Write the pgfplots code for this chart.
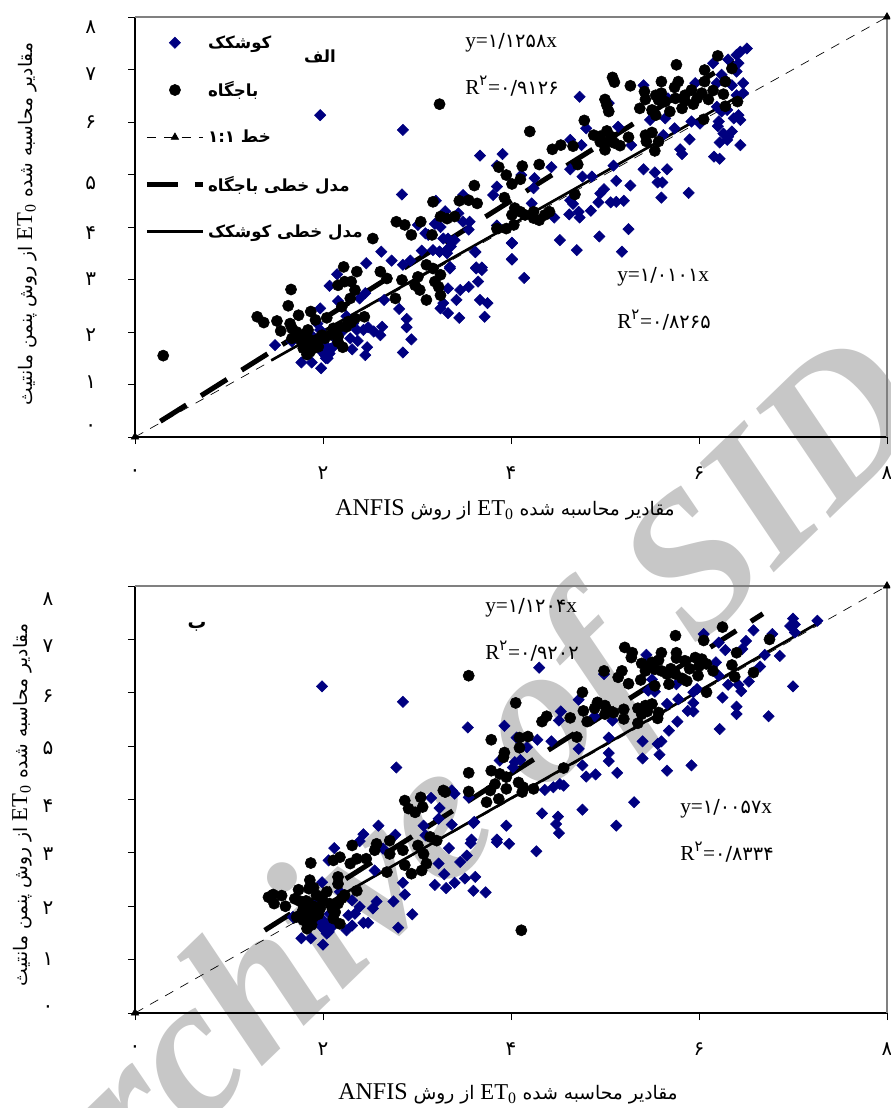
\documentclass[border=0pt]{standalone}
\usepackage{fontspec}
\usepackage{pgfplots}
\pgfplotsset{compat=1.18}
\setmainfont{Liberation Serif}
\newfontfamily\ar[Script=Arabic]{DejaVu Sans}
\TeXXeTstate=1
\definecolor{kblue}{HTML}{000080}
\newcommand\ry[2]{\raisebox{\dimexpr#1-2pt\relax}[0pt][0pt]{\ar\fontsize{15}{15}\selectfont #2}}
\newcommand\tx[1]{{\ar\fontsize{15}{15}\selectfont #1}}
\newcommand\eqn[2]{{\fontsize{16}{16}\selectfont #1{\ar\fontsize{14.5}{14.5}\selectfont #2}}}
\pgfplotsset{
  ketick/.style={
    scale only axis, clip=false, width=564pt,
    xmin=0,xmax=8,ymin=0,ymax=8,
    axis lines=left, axis line style={-,black,line width=0.9pt},
    tick style={black,line width=0.7pt}, tick align=outside, major tick length=5.25pt,
    xtick={0,2,4,6,8}, ytick={0,1,2,3,4,5,6,7,8},
    xticklabels={\tx{۰},\tx{۲},\tx{۴},\tx{۶},\tx{۸}},
    xticklabel style={anchor=center,yshift=-22pt},
    yticklabel style={anchor=center,xshift=-28pt},
    legend image code/.code={\draw[mark repeat=2,mark phase=2,##1] plot coordinates {(0pt,0pt)(21pt,0pt)(42pt,0pt)};},
  },
  kblue/.style={only marks,mark=square*,mark size=3pt,mark options={rotate=45,fill=kblue,draw=kblue},color=kblue},
  kblack/.style={only marks,mark=*,mark size=4.2pt,mark options={fill=black,draw=black},color=black},
  kone/.style={black,line width=0.5pt,dash pattern=on 7pt off 6pt,mark=triangle*,mark size=3.2pt,mark options={solid,fill=black}},
  kdash/.style={black,line width=3.8pt,dash pattern=on 23pt off 13pt,no marks},
  ksolid/.style={black,line width=2pt,no marks},
}
\begin{document}
\begin{tikzpicture}
\clip (0,0) rectangle (667.5pt,-831pt);
\path[use as bounding box] (0,0) rectangle (667.5pt,-831pt);
\begin{scope}[x=0.75pt,y=-0.75pt]
\coordinate (A1) at (135,437);
\coordinate (A2) at (135,1013);
\node[rotate=44,text=black!22,anchor=base west,inner sep=0pt] at (45,1277)
  {\fontsize{149}{149}\selectfont\bfseries\itshape Archive of SID};
\end{scope}

\begin{axis}[ketick,at={(A1)},anchor=south west,height=315pt,
  yticklabels={\ry{6.5pt}{۰},\ry{-1pt}{۱},\ry{-4.75pt}{۲},\ry{-2.5pt}{۳},\ry{-7pt}{۴},\ry{-9.25pt}{۵},\ry{-2.5pt}{۶},\ry{-6.25pt}{۷},\ry{-10pt}{۸}},
  legend cell align=left,
  legend style={at={(axis cs:0.10,7.70)},anchor=north west,draw=none,fill=none,inner sep=0pt,outer sep=0pt,
    row sep=19.5pt,font=\ar\bfseries\fontsize{12.5}{15}\selectfont,
    /tikz/every even column/.append style={column sep=8pt}},
]
\addplot[kblue] coordinates {
(6.51,7.40)(6.44,7.34)(6.40,7.28)(6.31,7.19)(6.15,7.12)(6.42,7.12)(6.40,6.96)(6.47,6.74)(6.35,6.70)(6.19,6.74)
(6.24,6.90)(6.28,6.80)(5.96,6.74)(5.41,6.70)(5.67,6.45)(6.40,6.51)(6.47,6.55)(4.73,6.48)(6.19,6.29)(6.24,6.20)
(6.30,6.23)(6.42,6.13)(6.44,6.04)(6.37,6.07)(6.21,6.01)(6.20,5.92)(5.92,6.01)(6.01,5.97)(5.74,5.88)(5.64,6.07)
(5.48,6.04)(5.14,5.91)(4.80,5.88)(5.04,6.36)(4.63,5.66)(4.75,5.56)(5.28,5.56)(5.62,5.75)(6.35,5.82)(6.26,5.78)
(6.31,5.72)(6.30,5.66)(6.22,5.61)(6.44,5.56)(5.90,5.67)(5.80,5.48)(5.82,5.39)(6.16,5.34)(6.22,5.30)(5.41,5.10)
(5.53,5.04)(5.66,5.10)(4.63,5.10)(5.09,5.17)(4.43,5.14)(4.76,4.96)(4.86,4.96)(3.67,5.36)(3.91,5.39)(3.85,5.17)
(4.11,4.99)(4.25,4.93)(3.85,4.77)(3.81,4.61)(4.24,4.74)(5.12,4.88)(5.27,4.79)(5.56,4.85)(5.61,4.85)(5.60,4.56)
(5.89,4.65)(4.99,4.72)(4.95,4.64)(4.93,4.47)(5.06,4.47)(5.12,4.48)(5.20,4.50)(4.63,4.51)(4.66,4.44)(4.22,4.45)
(4.85,4.31)(4.72,4.29)(4.62,4.24)(4.73,4.18)(4.46,4.18)(3.85,4.03)(5.25,3.96)(4.94,3.82)(4.52,3.75)(4.01,3.70)
(4.70,3.56)(5.18,3.53)(4.01,3.39)(3.62,3.52)(3.63,3.23)(3.69,3.23)(3.36,3.63)(3.33,3.78)(3.35,3.24)(3.49,4.61)
(3.44,4.26)(3.49,4.10)(3.56,4.10)(3.32,3.50)
(1.97,6.13)(2.85,5.85)(2.84,4.62)(3.01,4.04)(3.19,4.06)(3.09,3.88)(3.24,3.53)(3.28,3.78)
(2.62,3.53)(2.73,3.36)(2.85,3.28)(2.93,3.36)(2.46,3.31)(2.15,3.10)(2.07,2.88)(2.45,2.74)(2.39,2.64)(2.16,2.59)
(1.97,2.45)(1.94,2.16)(1.97,2.04)(1.49,1.75)(1.67,1.82)(1.77,1.42)(1.88,1.42)(1.98,1.31)(1.99,1.62)(2.04,1.72)
(2.02,1.56)(2.07,1.59)(2.05,1.50)(1.97,1.75)(2.11,1.91)(2.32,2.16)(2.36,2.04)(2.29,1.88)(2.37,1.83)(2.31,1.67)
(2.47,1.71)(2.45,1.56)(2.43,2.04)(2.48,2.09)(2.54,2.01)(2.61,1.94)(2.63,2.10)(2.65,2.61)(2.81,2.44)(2.89,2.25)
(2.89,2.09)(2.94,1.86)(2.85,1.61)(3.25,2.45)(3.28,2.55)(3.33,2.36)(3.45,2.27)(3.42,2.61)(3.33,2.83)(3.46,2.80)
(3.55,2.86)(3.65,2.96)(3.63,3.21)(3.69,3.18)(3.67,2.61)(3.75,2.55)(3.72,2.29)(3.35,3.21)(3.62,3.53)(4.01,3.69)
(4.01,3.38)(4.14,3.03)(3.33,3.59)(3.24,3.53)(3.17,3.56)(3.05,3.55)(3.12,3.85)(3.25,4.00)(3.40,3.75)(3.55,3.95)
(3.20,4.50)(3.30,4.30)(2.10,1.70)(2.20,2.00)(2.25,2.30)(1.90,1.90)(2.00,1.66)(2.05,1.62)(2.08,1.68)(2.03,1.50)
};
\addlegendentry{\beginR کوشکک\endR}
\addplot[kblack] coordinates {
(6.20,7.26)(5.76,7.09)(6.06,6.99)(6.35,7.02)(5.08,6.85)(5.10,6.76)(5.27,6.69)(5.60,6.77)(5.78,6.77)(5.74,6.66)
(5.42,6.58)(5.43,6.43)(5.54,6.51)(5.57,6.42)(5.64,6.39)(6.28,6.77)(6.26,6.53)(5.00,6.43)(5.02,6.32)(5.04,6.20)
(5.37,6.26)(5.50,6.23)(5.54,6.13)(5.69,6.20)(5.82,6.26)(5.94,6.34)(6.10,6.43)(6.03,6.55)(5.92,6.61)(5.85,6.51)
(6.06,6.77)(6.28,6.30)(6.41,6.39)(6.05,6.05)(4.78,6.03)(4.20,5.82)(4.88,5.75)(4.95,5.73)(5.02,5.83)(5.07,5.72)
(5.00,5.47)(5.04,5.63)(5.16,5.55)(5.25,5.71)(5.43,5.75)(5.50,5.80)(5.44,5.63)(5.53,5.45)(5.57,5.63)(4.44,5.48)
(4.53,5.56)(4.66,5.54)(4.71,5.19)(3.87,5.14)(3.95,4.99)(4.12,5.16)(4.30,5.19)(4.01,4.82)(4.10,4.91)(3.61,4.79)
(3.93,4.56)(3.45,4.50)(3.55,4.51)(3.64,4.45)(4.68,4.62)(4.04,4.36)(4.10,4.29)(4.01,4.23)(4.15,4.23)(4.24,4.29)
(4.24,4.17)(4.30,4.13)(4.36,4.23)(4.41,4.29)(4.03,4.04)(3.95,3.97)(3.85,3.97)(3.40,4.20)(3.32,4.16)
(3.24,6.34)(3.17,4.48)(2.78,4.10)(2.87,4.04)(3.04,4.10)(3.25,4.20)(2.94,3.85)(3.16,3.85)(2.53,3.78)(3.10,3.28)
(0.30,1.55)(1.30,2.29)(1.37,2.18)(1.51,2.21)(1.66,2.81)(1.63,2.50)(1.74,2.32)(1.87,2.39)(1.92,2.23)(1.65,2.16)
(1.67,2.07)(1.55,2.02)(1.72,2.00)(1.84,2.04)(1.67,1.88)(1.77,1.82)(1.84,1.88)(1.79,1.69)(1.90,1.69)(1.83,1.57)
(1.93,1.85)(1.99,1.94)(2.04,2.27)(2.11,2.07)(2.20,2.48)(2.16,1.81)(2.21,1.71)(2.27,2.20)(2.18,2.10)(2.16,1.91)
(2.44,2.29)(2.34,2.80)(2.36,3.15)(2.23,2.96)(2.16,2.89)(2.30,2.96)(2.22,3.24)(2.29,2.64)(2.61,3.15)(2.68,3.02)
(2.77,2.64)(2.84,2.99)(3.01,3.05)(2.98,2.89)(3.03,2.80)(3.10,2.61)(3.17,3.21)(3.25,3.09)(3.23,2.86)(3.25,2.70)
(3.19,2.96)
(1.80,1.95)(1.88,1.78)(1.95,1.72)(2.02,1.88)(2.08,1.95)(2.12,2.00)(1.86,1.62)(2.25,2.10)(2.30,2.18)(2.34,2.26)
(4.95,5.62)(5.10,5.60)(5.75,6.45)(5.85,6.40)(5.98,6.45)(6.15,6.60)(5.60,6.55)
};
\addlegendentry{\beginR باجگاه\endR}
\addplot[kone] coordinates {(0,0)(8,8)};
\addlegendentry{\beginR خط \beginL ۱:۱\endL{}\endR}
\addplot[kdash] coordinates {(0.27,0.30)(6.37,7.17)};
\addlegendentry{\beginR مدل خطی باجگاه\endR}
\addplot[ksolid] coordinates {(1.45,1.46)(6.51,6.58)};
\addlegendentry{\beginR مدل خطی کوشکک\endR}
\draw[black!50,line width=0.9pt] (axis cs:0,8) -- (axis cs:8,8) -- (axis cs:8,0);
\end{axis}

\begin{axis}[ketick,at={(A2)},anchor=south west,height=320.25pt,
  yticklabel style={anchor=center,xshift=-32pt},
  yticklabels={\ry{2.75pt}{۰},\ry{-2.5pt}{۱},\ry{-4pt}{۲},\ry{-4pt}{۳},\ry{-7.75pt}{۴},\ry{-4pt}{۵},\ry{-5.5pt}{۶},\ry{-7.75pt}{۷},\ry{-12.25pt}{۸}},
]
\addplot[kblue] coordinates {
(7.26,7.35)(7.00,7.39)(7.02,7.28)(6.97,7.25)(7.02,7.13)(6.78,7.10)(6.58,7.17)(6.50,6.97)(6.05,7.10)(6.21,6.94)
(6.28,6.80)(6.46,6.82)(6.70,6.71)(6.86,6.69)(5.44,6.71)(4.30,6.47)(6.18,6.57)(6.65,6.49)(6.53,6.21)(7.00,6.12)
(6.31,6.15)(6.42,6.15)(6.45,6.03)(6.21,6.32)(5.98,6.07)(5.94,6.01)(6.25,5.91)(5.94,5.81)(5.78,5.88)(5.66,5.79)
(6.40,5.74)(6.40,5.60)(6.74,5.56)(5.88,5.66)(5.94,5.65)(5.77,5.46)(5.68,5.29)(6.22,5.32)(5.46,6.04)(5.53,6.02)
(5.50,6.25)(5.76,6.16)(4.99,6.35)(4.72,5.87)(4.53,5.65)(4.51,5.48)(4.89,5.56)(5.08,5.48)(3.93,5.38)(3.54,5.35)
(4.06,5.16)(4.28,5.12)(4.43,5.09)(4.72,4.95)(5.04,5.16)(5.40,5.09)(5.60,5.09)(5.56,5.04)(5.04,4.87)(5.04,4.72)
(5.58,4.84)(5.40,4.77)(5.66,4.54)(5.92,4.64)(4.76,4.64)(4.17,4.98)(4.10,4.74)(4.04,4.70)(4.02,4.60)(3.88,4.73)
(4.80,4.43)(4.90,4.47)(5.13,4.50)(4.36,4.18)(4.45,4.23)(4.52,4.29)(4.56,4.26)(5.31,3.95)(4.76,3.81)(4.33,3.74)
(4.50,3.68)(4.48,3.54)(4.51,3.37)(5.12,3.51)(3.95,3.51)(3.60,3.56)(3.37,3.53)(3.58,3.25)(3.85,3.25)(3.40,4.11)
(3.55,4.04)(3.37,4.17)
(1.99,6.12)(2.85,5.83)(2.78,4.60)(3.15,4.03)(3.24,3.84)(3.23,3.64)(2.59,3.51)(2.43,3.35)(2.77,3.34)(3.07,3.51)
(3.09,3.33)(2.39,3.22)(2.12,3.09)(2.06,2.86)(3.61,3.58)(3.85,3.20)(3.98,3.17)(4.27,3.03)(3.57,3.18)(3.34,3.09)
(3.53,2.95)(3.46,2.83)(3.23,2.80)(3.29,2.60)(3.62,2.55)(3.51,2.52)(3.40,2.44)(3.19,2.40)(3.31,2.34)(3.60,2.29)
(3.73,2.26)(2.85,2.44)(2.87,2.22)(2.75,2.09)(2.57,2.09)(2.53,1.96)(2.39,1.99)(2.34,1.86)(2.27,1.83)(2.95,1.85)
(2.80,1.60)(2.43,1.69)(2.48,1.69)(2.31,1.64)(2.25,1.55)(2.55,2.67)(1.99,2.45)(2.18,2.27)(2.31,2.11)(1.77,1.40)
(1.87,1.40)(2.00,1.28)(2.04,1.49)(1.99,1.61)(2.07,1.58)(1.93,2.05)(1.68,1.80)(1.95,1.74)(2.06,1.67)(2.00,1.74)
(2.07,1.86)(2.64,3.08)(2.02,1.55)(2.06,1.52)(2.10,1.62)
};
\addplot[kblack] coordinates {
(6.25,7.23)(5.75,7.07)(6.05,6.98)(6.75,7.00)(6.40,6.75)(5.21,6.85)(5.29,6.75)(5.28,6.66)(5.60,6.75)(5.76,6.75)
(5.76,6.65)(5.96,6.66)(5.39,6.55)(5.50,6.57)(5.57,6.61)(5.43,6.41)(5.53,6.44)(5.60,6.41)(5.66,6.35)(5.85,6.60)
(6.03,6.63)(6.08,6.54)(6.15,6.41)(5.99,6.32)(5.82,6.27)(5.87,6.22)(6.35,6.52)(6.38,6.30)(6.58,6.38)(4.99,6.41)
(5.18,6.41)(5.14,6.29)(5.25,6.17)(5.38,6.24)(5.53,6.13)(5.68,6.16)(6.08,6.01)(3.55,6.32)(4.76,6.01)(4.05,5.81)
(4.92,5.82)(5.00,5.76)(4.89,5.71)(5.00,5.60)(5.09,5.63)(5.20,5.69)(5.20,5.51)(5.35,5.71)(5.43,5.76)(5.50,5.79)
(5.39,5.60)(5.35,5.43)(5.57,5.63)(5.56,5.52)(4.77,5.66)(4.81,5.46)(4.63,5.53)(4.38,5.56)(4.33,5.46)(4.70,5.17)
(3.79,5.12)(4.09,5.16)(4.18,5.18)(4.09,4.97)(3.93,4.88)(3.92,4.79)(3.55,4.50)(3.79,4.54)(4.56,4.59)(3.88,4.48)
(3.95,4.42)(3.83,4.29)(3.95,4.20)(4.08,4.32)(4.13,4.23)(4.12,4.14)(4.24,4.20)(3.55,4.15)(3.78,4.17)(3.87,4.01)
(3.74,3.95)(3.30,4.14)
(2.87,3.98)(3.04,4.04)(3.28,4.17)(2.91,3.83)(2.98,3.76)(3.06,3.86)
(4.11,1.55)(1.87,2.81)(1.42,2.17)(1.47,2.22)(1.56,2.20)(1.48,2.05)(1.60,2.00)(1.74,2.31)(1.70,2.14)(1.86,2.49)
(1.85,2.33)(1.93,2.21)(2.04,2.27)(2.16,2.55)(2.16,2.42)(1.79,2.02)(1.84,1.96)(1.72,1.80)(1.79,1.74)(1.86,1.74)
(1.83,1.58)(1.90,1.80)(1.97,1.96)(2.07,2.05)(2.16,2.05)(2.23,2.21)(2.36,2.29)(2.13,1.89)(2.11,1.77)(2.18,1.67)
(2.11,2.86)(2.18,2.92)(2.31,3.14)(2.29,2.80)(2.36,2.89)(2.46,2.89)(2.57,3.17)(2.55,3.05)(2.71,3.23)(2.68,2.64)
(2.71,2.98)(2.85,3.05)(2.87,2.77)(3.01,3.14)(3.07,2.98)(3.10,2.80)(3.05,2.67)(2.94,2.61)(3.21,3.23)(3.14,3.30)
(1.75,2.10)(1.82,2.10)(1.90,2.00)(1.95,1.85)(1.84,1.85)(1.78,1.90)(1.88,1.65)(2.10,1.95)(2.20,2.15)(2.00,2.10)(1.90,2.35)
(5.45,6.50)(5.70,6.45)(5.90,6.45)(6.00,6.50)(5.75,6.35)(5.05,5.65)(5.45,5.65)
};
\addplot[kone] coordinates {(0,0)(8,8)};
\addplot[kdash] coordinates {(1.38,1.55)(6.68,7.48)};
\addplot[ksolid] coordinates {(1.68,1.69)(7.26,7.30)};
\draw[black!50,line width=0.9pt] (axis cs:0,8) -- (axis cs:8,8) -- (axis cs:8,0);
\end{axis}

\begin{scope}[x=0.75pt,y=-0.75pt]
\node[anchor=center,inner sep=0pt] at (320,56) {\ar\bfseries\fontsize{12.5}{15}\selectfont\beginR الف\endR};
\node[anchor=center,inner sep=0pt] at (197,627) {\ar\bfseries\fontsize{14}{15}\selectfont\beginR ب\endR};
\node[anchor=west,inner sep=0pt] at (465,43) {\eqn{y=}{۱/۱۲۵۸}\eqn{x}{}};
\node[anchor=west,inner sep=0pt] at (465,86) {\eqn{R\textsuperscript{\ar ۲}=}{۰/۹۱۲۶}};
\node[anchor=west,inner sep=0pt] at (617,277) {\eqn{y=}{۱/۰۱۰۱}\eqn{x}{}};
\node[anchor=west,inner sep=0pt] at (617,320) {\eqn{R\textsuperscript{\ar ۲}=}{۰/۸۲۶۵}};
\node[anchor=west,inner sep=0pt] at (485,608) {\eqn{y=}{۱/۱۲۰۴}\eqn{x}{}};
\node[anchor=west,inner sep=0pt] at (485,651) {\eqn{R\textsuperscript{\ar ۲}=}{۰/۹۲۰۲}};
\node[anchor=west,inner sep=0pt] at (680,809) {\eqn{y=}{۱/۰۰۵۷}\eqn{x}{}};
\node[anchor=west,inner sep=0pt] at (680,852) {\eqn{R\textsuperscript{\ar ۲}=}{۰/۸۳۳۴}};
\newcommand\ylab{\beginR{\ar\fontsize{14}{15}\selectfont مقادیر محاسبه شده }\beginL{\fontsize{17}{17}\selectfont ET\textsubscript{0}}\endL{}{\ar\fontsize{14}{15}\selectfont\ از روش پنمن مانتیث}\endR}
\newcommand\xlab{\beginR{\ar\fontsize{14}{15}\selectfont مقادیر محاسبه شده }\beginL{\fontsize{17}{17}\selectfont ET\textsubscript{0}}\endL{}{\ar\fontsize{14}{15}\selectfont\ از روش }\beginL{\fontsize{18}{18}\selectfont ANFIS}\endL\endR}
\node[rotate=90,inner sep=0pt] at (27,224) {\ylab};
\node[rotate=90,inner sep=0pt] at (22,805) {\ylab};
\node[inner sep=0pt] at (505,510) {\xlab};
\node[inner sep=0pt] at (508,1094) {\xlab};
\end{scope}
\end{tikzpicture}
\end{document}
